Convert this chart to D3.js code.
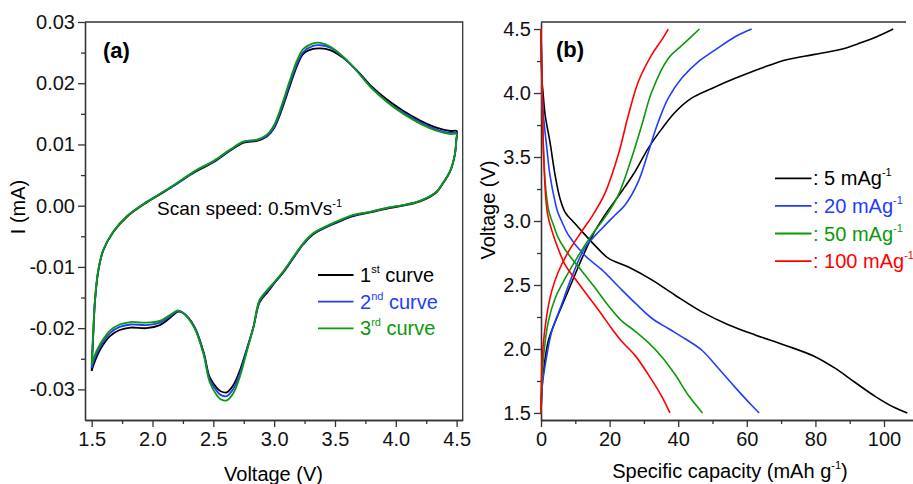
<!DOCTYPE html>
<html>
<head>
<meta charset="utf-8">
<script src="https://cdn.jsdelivr.net/npm/d3@7"></script>
<style>
  body { margin: 0; background: #fff; }
  svg { display: block; font-family: Arial, "Liberation Sans", sans-serif; }
  .axis path, .axis line { stroke: #333; stroke-width: 1.3; }
  .axis text { font-size: 20px; fill: #111; }
</style>
</head>
<body>
<svg width="913" height="484"></svg>
<script>
// ---- panel (a): cyclic voltammetry, anodic sweep then cathodic sweep ----
const cvVoltUp = [1.5, 1.505, 1.513, 1.527, 1.554, 1.595, 1.678, 1.79, 1.95, 2.05, 2.2, 2.35, 2.5, 2.64, 2.75, 2.86, 2.94, 3.0, 3.05, 3.13, 3.19, 3.24, 3.32, 3.38, 3.46, 3.57, 3.68, 3.79, 3.93, 4.06, 4.2, 4.34, 4.45, 4.5];
const cvVoltDown = [4.497, 4.485, 4.445, 4.39, 4.335, 4.2, 4.06, 3.92, 3.79, 3.65, 3.51, 3.32, 3.24, 3.16, 3.075, 3.0, 2.95, 2.88, 2.83, 2.775, 2.72, 2.665, 2.61, 2.56, 2.53, 2.47, 2.42, 2.34, 2.25, 2.21, 2.14, 2.06, 1.95, 1.82, 1.73, 1.65, 1.57, 1.515, 1.5];

const curve1Up = [-0.027, -0.0245, -0.021, -0.0156, -0.0107, -0.0073, -0.0043, -0.0018, 0.0005, 0.0017, 0.0036, 0.0055, 0.0071, 0.009, 0.0103, 0.0106, 0.0113, 0.0127, 0.015, 0.0196, 0.0229, 0.0248, 0.0256, 0.0257, 0.0254, 0.0241, 0.0221, 0.0197, 0.0173, 0.0155, 0.0139, 0.0127, 0.0122, 0.0122];
const curve1Down = [0.0107, 0.0083, 0.0055, 0.0037, 0.0022, 0.0007, 0.0, -0.0005, -0.0011, -0.0017, -0.0028, -0.0047, -0.0063, -0.0085, -0.0109, -0.0127, -0.014, -0.0158, -0.0198, -0.0234, -0.0268, -0.0293, -0.0305, -0.0303, -0.0298, -0.028, -0.0239, -0.0196, -0.0175, -0.0173, -0.0184, -0.0195, -0.02, -0.0199, -0.0203, -0.0213, -0.0235, -0.026, -0.027];

const curve2Up = [-0.0265, -0.024, -0.0208, -0.0155, -0.0106, -0.0073, -0.0042, -0.0017, 0.0006, 0.0018, 0.0036, 0.0056, 0.0072, 0.0091, 0.0104, 0.0107, 0.0114, 0.0129, 0.0153, 0.02, 0.0233, 0.0251, 0.0261, 0.0262, 0.0258, 0.0242, 0.022, 0.0195, 0.017, 0.0152, 0.0136, 0.0124, 0.0119, 0.0119];
const curve2Down = [0.0106, 0.0083, 0.0056, 0.0038, 0.0023, 0.0008, 0.0001, -0.0004, -0.001, -0.0016, -0.0027, -0.0046, -0.0062, -0.0084, -0.0108, -0.0126, -0.0138, -0.0156, -0.0198, -0.0236, -0.0273, -0.0299, -0.0311, -0.0309, -0.0303, -0.0284, -0.0241, -0.0197, -0.0175, -0.0172, -0.0181, -0.0191, -0.0195, -0.0194, -0.0198, -0.0208, -0.023, -0.0254, -0.0265];

const curve3Up = [-0.026, -0.0235, -0.0205, -0.0154, -0.0105, -0.0072, -0.0042, -0.0017, 0.0006, 0.0018, 0.0037, 0.0057, 0.0073, 0.0092, 0.0105, 0.0108, 0.0116, 0.0132, 0.0157, 0.0205, 0.0238, 0.0256, 0.0265, 0.0266, 0.026, 0.0243, 0.022, 0.0194, 0.0169, 0.015, 0.0134, 0.0122, 0.0117, 0.0117];
const curve3Down = [0.0105, 0.0083, 0.0056, 0.0038, 0.0023, 0.0008, 0.0001, -0.0004, -0.001, -0.0015, -0.0026, -0.0045, -0.0061, -0.0083, -0.0107, -0.0125, -0.0136, -0.0154, -0.0198, -0.0238, -0.0278, -0.0306, -0.0318, -0.0316, -0.031, -0.0288, -0.0243, -0.0198, -0.0175, -0.0171, -0.0179, -0.0188, -0.0191, -0.019, -0.0194, -0.0204, -0.0226, -0.0249, -0.026];

const cvTicksX = [1.5, 2.0, 2.5, 3.0, 3.5, 4.0, 4.5];
const cvTicksY = [-0.03, -0.02, -0.01, 0, 0.01, 0.02, 0.03];

// ---- panel (b): charge / discharge profiles, [capacity, voltage] ----
const charge5 = [[0, 1.5], [0.3, 1.7], [0.7, 1.82], [2.1, 2.06], [4.1, 2.21], [7, 2.395], [9.9, 2.58], [12.8, 2.76], [15.7, 2.92], [18.7, 3.05], [23.5, 3.23], [27.4, 3.385], [31.3, 3.57], [35.2, 3.72], [39.1, 3.85], [43.9, 3.96], [49.8, 4.036], [56.6, 4.115], [64.8, 4.2], [71.6, 4.26], [79.4, 4.3], [87.2, 4.34], [93, 4.39], [97.9, 4.44], [102.7, 4.5]];
const discharge5 = [[0, 4.5], [0.3, 4.1], [0.6, 4.0], [1.2, 3.83], [2.6, 3.62], [4.1, 3.36], [5.5, 3.18], [7, 3.07], [9.9, 2.98], [11.9, 2.92], [15.7, 2.81], [19.6, 2.71], [25.5, 2.64], [32.3, 2.54], [39.1, 2.42], [46.9, 2.29], [54.6, 2.19], [62.4, 2.11], [71.1, 2.03], [79.9, 1.94], [85.7, 1.85], [91.5, 1.74], [97.4, 1.63], [103.2, 1.54], [106.8, 1.5]];

const charge20 = [[0, 1.5], [0.4, 1.72], [1.2, 1.87], [3.1, 2.135], [6, 2.345], [9, 2.565], [12.8, 2.79], [17.7, 2.94], [21.6, 3.047], [24.5, 3.125], [28.4, 3.31], [31.3, 3.54], [34.2, 3.775], [37.1, 3.96], [41, 4.115], [45.9, 4.245], [50.7, 4.335], [56.6, 4.44], [61.4, 4.5]];
const discharge20 = [[0, 4.5], [0.3, 4.1], [0.7, 3.83], [1.7, 3.57], [2.6, 3.36], [4.1, 3.15], [5, 3.06], [6, 3.0], [8, 2.89], [12.8, 2.73], [17.7, 2.62], [22.5, 2.49], [27.4, 2.36], [32.3, 2.24], [37.1, 2.16], [42, 2.08], [46.9, 1.99], [51.7, 1.85], [56.6, 1.7], [61.4, 1.56], [63.6, 1.5]];

const charge50 = [[0, 1.5], [0.3, 1.75], [0.7, 1.93], [2.1, 2.21], [4.1, 2.395], [7, 2.55], [10.9, 2.73], [14.8, 2.89], [19.2, 3.05], [22.5, 3.2], [26.4, 3.49], [29.4, 3.75], [32.3, 4.01], [37.1, 4.27], [41, 4.37], [46.2, 4.5]];
const discharge50 = [[0, 4.5], [0.3, 4.0], [0.7, 3.57], [1.2, 3.31], [2.1, 3.1], [2.6, 3.047], [3.6, 2.97], [5, 2.87], [8, 2.74], [11.9, 2.61], [15.7, 2.48], [19.6, 2.34], [23.5, 2.22], [27.4, 2.14], [31.3, 2.05], [35.2, 1.94], [39.1, 1.8], [42.9, 1.64], [47.1, 1.5]];

const charge100 = [[0, 1.5], [0.15, 1.75], [0.4, 1.95], [1.7, 2.265], [3.1, 2.45], [5, 2.6], [8, 2.76], [11.9, 2.92], [15.2, 3.05], [18.7, 3.22], [22.5, 3.515], [25.5, 3.83], [28.4, 4.09], [32.3, 4.3], [35.2, 4.415], [37.1, 4.5]];
const discharge100 = [[0, 4.5], [0.2, 4.22], [0.7, 3.57], [1.4, 3.18], [2.1, 3.03], [4.1, 2.85], [7, 2.66], [9.9, 2.55], [13.8, 2.41], [17.7, 2.27], [20.6, 2.16], [23.5, 2.06], [27.4, 1.95], [31.3, 1.8], [35.2, 1.63], [37.6, 1.5]];

const gcdTicksX = [0, 20, 40, 60, 80, 100];
const gcdTicksY = [1.5, 2.0, 2.5, 3.0, 3.5, 4.0, 4.5];

const colors = { black: "#000000", blue: "#1f3dff", green: "#0a9a0a", red: "#ff0000" };

const svg = d3.select("svg");

// ===== panel (a) =====
const xa = d3.scaleLinear().domain([1.445, 4.55]).range([85, 462.7]);
const ya = d3.scaleLinear().domain([-0.035, 0.03]).range([420, 22]);

const minorXa = d3.range(1.75, 4.5, 0.5);
const minorYa = d3.range(-0.025, 0.03, 0.01);

svg.append("g").attr("class", "axis")
  .attr("transform", "translate(0,420)")
  .call(d3.axisBottom(xa).tickValues(minorXa).tickSize(4).tickSizeOuter(0).tickFormat(""));
svg.append("g").attr("class", "axis")
  .attr("transform", "translate(0,420)")
  .call(d3.axisBottom(xa).tickValues(cvTicksX).tickSize(7).tickSizeOuter(0).tickPadding(5).tickFormat(d3.format(".1f")));
svg.append("g").attr("class", "axis")
  .attr("transform", "translate(85,0)")
  .call(d3.axisLeft(ya).tickValues(minorYa).tickSize(4).tickSizeOuter(0).tickFormat(""));
svg.append("g").attr("class", "axis")
  .attr("transform", "translate(85,0)")
  .call(d3.axisLeft(ya).tickValues(cvTicksY).tickSize(7).tickSizeOuter(0).tickPadding(3)
    .tickFormat((d) => d.toFixed(2)));

// top and right frame
svg.append("path")
  .attr("d", `M85,22H${xa.range()[1]}V420`)
  .attr("fill", "none").attr("stroke", "#333").attr("stroke-width", 1.3);

const cvLine = d3.line()
  .x((d) => xa(d[0]))
  .y((d) => ya(d[1]))
  .curve(d3.curveCatmullRom.alpha(0.5));

const cvVolt = cvVoltUp.concat(cvVoltDown);
const cvSeries = [
  { name: "1", sup: "st", color: colors.black, values: curve1Up.concat(curve1Down) },
  { name: "2", sup: "nd", color: colors.blue, values: curve2Up.concat(curve2Down) },
  { name: "3", sup: "rd", color: colors.green, values: curve3Up.concat(curve3Down) },
];

svg.append("g").selectAll("path")
  .data(cvSeries)
  .join("path")
  .attr("fill", "none")
  .attr("stroke", (d) => d.color)
  .attr("stroke-width", 1.8)
  .attr("d", (d) => cvLine(d3.zip(cvVolt, d.values)));

svg.append("text")
  .attr("x", 103).attr("y", 58)
  .attr("font-size", 22).attr("font-weight", "bold")
  .text("(a)");

const scan = svg.append("text").attr("x", 157).attr("y", 215).attr("font-size", 19);
scan.append("tspan").text("Scan speed: 0.5mVs");
scan.append("tspan").attr("font-size", 11).attr("dy", -8).text("-1");

const legA = svg.append("g").selectAll("g")
  .data(cvSeries)
  .join("g")
  .attr("transform", (d, i) => `translate(318,${275 + i * 26.7})`);
legA.append("line").attr("x1", 0).attr("x2", 35.5)
  .attr("stroke", (d) => d.color).attr("stroke-width", 1.8);
const legAText = legA.append("text").attr("x", 42).attr("y", 7)
  .attr("font-size", 20).attr("fill", (d) => d.color);
legAText.append("tspan").text((d) => d.name);
legAText.append("tspan").attr("font-size", 11).attr("dy", -9).text((d) => d.sup);
legAText.append("tspan").attr("dy", 9).text(" curve");

svg.append("text")
  .attr("transform", "translate(25,207) rotate(-90)")
  .attr("text-anchor", "middle").attr("font-size", 20)
  .text("I (mA)");
svg.append("text")
  .attr("x", 273.5).attr("y", 481)
  .attr("text-anchor", "middle").attr("font-size", 20)
  .text("Voltage (V)");

// ===== panel (b) =====
const xb = d3.scaleLinear().domain([0, 110]).range([541, 918.3]);
const yb = d3.scaleLinear().domain([1.445, 4.555]).range([420, 22]);

const minorXb = d3.range(10, 110, 20);
const minorYb = d3.range(1.75, 4.5, 0.5);

svg.append("g").attr("class", "axis")
  .attr("transform", "translate(0,420)")
  .call(d3.axisBottom(xb).tickValues(minorXb).tickSize(4).tickSizeOuter(0).tickFormat(""));
svg.append("g").attr("class", "axis")
  .attr("transform", "translate(0,420)")
  .call(d3.axisBottom(xb).tickValues(gcdTicksX).tickSize(7).tickSizeOuter(0).tickPadding(5));
svg.append("g").attr("class", "axis")
  .attr("transform", "translate(541,0)")
  .call(d3.axisLeft(yb).tickValues(minorYb).tickSize(4).tickSizeOuter(0).tickFormat(""));
svg.append("g").attr("class", "axis")
  .attr("transform", "translate(541,0)")
  .call(d3.axisLeft(yb).tickValues(gcdTicksY).tickSize(7).tickSizeOuter(0).tickPadding(3)
    .tickFormat(d3.format(".1f")));

svg.append("path")
  .attr("d", "M541,22H906")
  .attr("fill", "none").attr("stroke", "#333").attr("stroke-width", 1.3);

const gcdLine = d3.line()
  .x((d) => xb(d[0]))
  .y((d) => yb(d[1]))
  .curve(d3.curveCatmullRom.alpha(0.5));

const gcdSeries = [
  { label: ": 5 mAg", color: colors.black, charge: charge5, discharge: discharge5 },
  { label: ": 20 mAg", color: colors.blue, charge: charge20, discharge: discharge20 },
  { label: ": 50 mAg", color: colors.green, charge: charge50, discharge: discharge50 },
  { label: ": 100 mAg", color: colors.red, charge: charge100, discharge: discharge100 },
];

const gcdG = svg.append("g").attr("fill", "none").attr("stroke-width", 1.6);
gcdSeries.forEach((s) => {
  gcdG.append("path").attr("stroke", s.color).attr("d", gcdLine(s.charge));
  gcdG.append("path").attr("stroke", s.color).attr("d", gcdLine(s.discharge));
});

svg.append("text")
  .attr("x", 556).attr("y", 57)
  .attr("font-size", 22).attr("font-weight", "bold")
  .text("(b)");

const legB = svg.append("g").selectAll("g")
  .data(gcdSeries)
  .join("g")
  .attr("transform", (d, i) => `translate(775,${178.3 + i * 27.6})`);
legB.append("line").attr("x1", 0).attr("x2", 36.5)
  .attr("stroke", (d) => d.color).attr("stroke-width", 1.8);
const legBText = legB.append("text").attr("x", 38).attr("y", 7)
  .attr("font-size", 20).attr("fill", (d) => d.color);
legBText.append("tspan").text((d) => d.label);
legBText.append("tspan").attr("font-size", 11).attr("dy", -9).text("-1");

svg.append("text")
  .attr("transform", "translate(495,210) rotate(-90)")
  .attr("text-anchor", "middle").attr("font-size", 20)
  .text("Voltage (V)");

const xbTitle = svg.append("text")
  .attr("x", 730).attr("y", 478)
  .attr("text-anchor", "middle").attr("font-size", 20);
xbTitle.append("tspan").text("Specific capacity (mAh g");
xbTitle.append("tspan").attr("font-size", 11).attr("dy", -9).text("-1");
xbTitle.append("tspan").attr("dy", 9).text(")");
</script>
</body>
</html>
